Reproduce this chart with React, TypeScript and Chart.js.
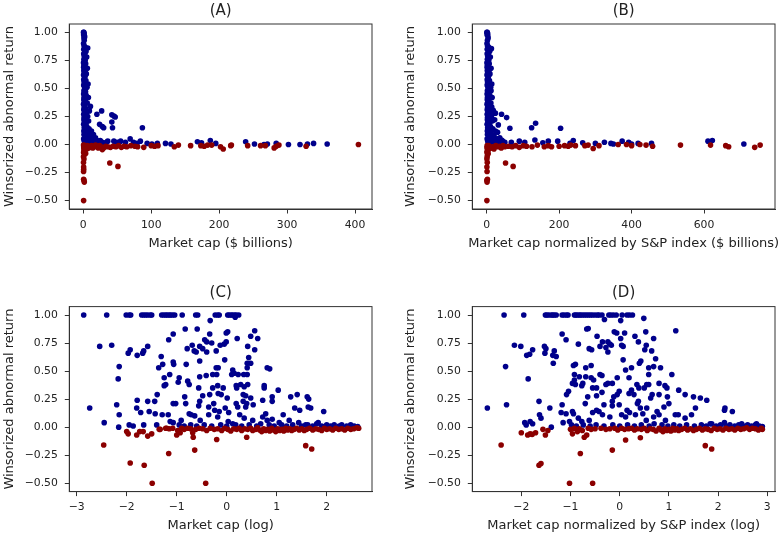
import React, { useEffect, useRef } from "react";
import { Chart, registerables } from "chart.js";

Chart.register(...registerables);

type Pt = [number, number];

// ---------- labels & ticks ----------
const titles = ["(A)", "(B)", "(C)", "(D)"];
const xLabels = [
  "Market cap ($ billions)",
  "Market cap normalized by S&P index ($ billions)",
  "Market cap (log)",
  "Market cap normalized by S&P index (log)",
];
const yLabel = "Winsorized abnormal return";
const yTicks = [-0.5, -0.25, 0, 0.25, 0.5, 0.75, 1.0];
const xTicksA = [0, 100, 200, 300, 400];
const xTicksB = [0, 200, 400, 600];
const xTicksC = [-3, -2, -1, 0, 1, 2];
const xTicksD = [-2, -1, 0, 1, 2, 3];

// ---------- panel A: market cap ($ billions) ----------
const aBlue: Pt[] = [
  [0.3, 1.0], [0.8, 1.0], [1.2, 0.99], [0.5, 0.98], [1.6, 0.97], [2.0, 0.96], [0.9, 0.95], [1.4, 0.93],
  [0.4, 0.9], [1.1, 0.88], [2.5, 0.87], [3.2, 0.86], [6.5, 0.86], [0.7, 0.85], [1.8, 0.84], [4.0, 0.83],
  [0.6, 0.81], [2.2, 0.8], [1.3, 0.79], [5.0, 0.78], [0.9, 0.76], [2.8, 0.75], [1.5, 0.74], [0.3, 0.73],
  [3.5, 0.72], [1.0, 0.71], [2.1, 0.7], [0.5, 0.69], [6.0, 0.68], [1.7, 0.67], [0.8, 0.66], [3.0, 0.65],
  [1.2, 0.64], [4.5, 0.63], [0.4, 0.62], [2.4, 0.61], [1.9, 0.6], [0.7, 0.58], [3.8, 0.57], [1.1, 0.56],
  [2.6, 0.55], [7.0, 0.54], [0.6, 0.53], [1.4, 0.52], [5.5, 0.51], [2.0, 0.5], [0.9, 0.48], [3.3, 0.47],
  [1.6, 0.46], [0.5, 0.45], [4.2, 0.44], [2.3, 0.43], [1.0, 0.42], [7.5, 0.42], [0.8, 0.4], [2.9, 0.39],
  [1.5, 0.38], [5.8, 0.37], [0.4, 0.36], [2.2, 0.35], [10.5, 0.34], [1.2, 0.33], [3.6, 0.32], [0.7, 0.31],
  [9.0, 0.3], [1.8, 0.29], [4.8, 0.28], [0.6, 0.27], [2.5, 0.26], [6.5, 0.25], [1.1, 0.24], [3.1, 0.23],
  [0.9, 0.22], [7.8, 0.21], [1.6, 0.2], [4.0, 0.19], [0.5, 0.18], [2.7, 0.17], [5.2, 0.16], [1.3, 0.15],
  [8.5, 0.14], [3.4, 0.13], [0.8, 0.12], [12, 0.12], [2.0, 0.11], [6.0, 0.1], [15, 0.09], [1.0, 0.09],
  [4.4, 0.08], [9.5, 0.07], [2.6, 0.06], [18, 0.06], [0.6, 0.05], [7.0, 0.05], [3.8, 0.04], [13, 0.04],
  [1.5, 0.03], [22, 0.03], [5.5, 0.02], [10, 0.02], [2.2, 0.01], [16, 0.01], [28, 0.02], [32, 0.01],
  [36, 0.03], [20, 0.27], [27, 0.3], [24, 0.18], [28, 0.16], [30, 0.15], [42, 0.265], [45, 0.255],
  [47, 0.245], [42, 0.2], [43, 0.15], [87, 0.15], [11, 0.1], [14, 0.06], [19, 0.04], [45, 0.03],
  [50, 0.02], [55, 0.03], [62, 0.02], [69, 0.05], [74, 0.02], [79, 0.01], [84, 0.03], [94, 0.01],
  [101, 0.005], [109, 0.01], [121, 0.01], [129, 0.005], [168, 0.025], [174, 0.015], [187, 0.035],
  [195, 0.01], [239, 0.025], [252, 0.005], [266, 0.0], [271, 0.005], [284, 0.01], [302, 0.0],
  [319, 0.0], [330, 0.005], [339, 0.01], [359, 0.005], [15, 0.02], [25, 0.035], [34, 0.02],
];
const aRed: Pt[] = [
  [0.4, -0.005], [1.0, -0.01], [2.0, -0.015], [0.6, -0.02], [3.0, -0.01], [1.5, -0.03], [4.5, -0.02],
  [0.8, -0.04], [6.0, -0.01], [2.5, -0.05], [1.2, -0.06], [8.0, -0.03], [0.5, -0.07], [3.5, -0.08],
  [1.8, -0.09], [0.3, -0.11], [5.0, -0.04], [1.0, -0.13], [0.3, -0.16], [0.5, -0.2], [0.6, -0.22],
  [0.4, -0.24], [0.5, -0.31], [1.0, -0.32], [1.5, -0.335], [0.5, -0.5], [10, -0.02], [12, -0.01],
  [14, -0.03], [16, -0.02], [18, -0.005], [20, -0.015], [22, -0.03], [24, -0.01], [26, -0.02],
  [28, -0.045], [30, -0.03], [33, -0.015], [36, -0.02], [40, -0.025], [44, -0.015], [48, -0.02],
  [52, -0.01], [56, -0.025], [60, -0.015], [64, -0.02], [70, -0.01], [76, -0.015], [80, -0.02],
  [89, -0.025], [100, -0.01], [105, -0.015], [110, -0.01], [134, -0.02], [140, -0.005], [158, -0.01],
  [173, -0.01], [178, -0.015], [183, -0.005], [189, -0.005], [202, -0.02], [206, -0.04], [217, -0.01],
  [218, -0.005], [242, -0.01], [261, -0.01], [268, -0.01], [281, -0.03], [284, -0.015], [288, -0.005],
  [328, -0.015], [405, 0.0], [39, -0.165], [51, -0.195],
];

// ---------- panel B: normalized market cap ($ billions) ----------
const bBlue: Pt[] = [
  [0.5, 1.0], [1.5, 1.0], [2.5, 0.99], [1.0, 0.98], [3.0, 0.97], [4.0, 0.95], [2.0, 0.93], [0.8, 0.9],
  [2.2, 0.88], [5.0, 0.87], [6.0, 0.86], [13, 0.855], [1.4, 0.85], [3.6, 0.84], [8.0, 0.83], [1.2, 0.81],
  [4.4, 0.8], [2.6, 0.79], [10, 0.78], [1.8, 0.76], [5.6, 0.75], [3.0, 0.74], [0.6, 0.73], [7.0, 0.72],
  [2.0, 0.71], [4.2, 0.7], [1.0, 0.69], [12, 0.68], [3.4, 0.67], [1.6, 0.66], [6.0, 0.65], [2.4, 0.64],
  [9.0, 0.63], [0.8, 0.62], [4.8, 0.61], [3.8, 0.6], [1.4, 0.58], [7.6, 0.57], [2.2, 0.56], [5.2, 0.55],
  [14, 0.54], [1.2, 0.53], [2.8, 0.52], [11, 0.51], [4.0, 0.5], [1.8, 0.48], [12, 0.48], [6.6, 0.47],
  [3.2, 0.46], [1.0, 0.45], [8.4, 0.44], [4.6, 0.43], [2.0, 0.42], [15, 0.42], [1.6, 0.4], [5.8, 0.39],
  [3.0, 0.38], [11.6, 0.37], [0.8, 0.36], [4.4, 0.35], [14, 0.335], [2.4, 0.33], [7.2, 0.32], [1.4, 0.31],
  [18, 0.305], [3.6, 0.29], [24, 0.28], [9.6, 0.28], [1.2, 0.27], [41, 0.27], [5.0, 0.26], [13, 0.25],
  [55, 0.24], [2.2, 0.24], [6.2, 0.23], [22, 0.22], [1.8, 0.22], [15.6, 0.21], [3.2, 0.2], [8.0, 0.19],
  [1.0, 0.18], [32, 0.175], [5.4, 0.17], [10.4, 0.16], [2.6, 0.15], [64, 0.145], [17, 0.14], [6.8, 0.13],
  [1.6, 0.12], [24, 0.12], [30, 0.11], [4.0, 0.11], [12, 0.1], [20, 0.08], [2.0, 0.09], [8.8, 0.08],
  [19, 0.07], [5.2, 0.06], [36, 0.06], [1.2, 0.05], [14, 0.05], [7.6, 0.04], [26, 0.04], [3.0, 0.03],
  [44, 0.03], [11, 0.02], [20, 0.02], [4.4, 0.01], [32, 0.01], [124, 0.15], [135, 0.19], [204, 0.145],
  [41, 0.04], [68, 0.02], [105, 0.02], [133, 0.04], [170, 0.03], [196, 0.03], [239, 0.035], [265, 0.015],
  [300, 0.01], [325, 0.02], [343, 0.01], [374, 0.03], [392, 0.02], [418, 0.01], [455, 0.01], [611, 0.03],
  [623, 0.035], [710, 0.005], [230, 0.01], [155, 0.015], [90, 0.03], [50, 0.02], [28, 0.05], [35, 0.03],
  [400, 0.005], [350, 0.005],
];
const bRed: Pt[] = [
  [0.5, -0.5], [1.0, -0.335], [0.5, -0.32], [2.0, -0.31], [1.0, -0.24], [0.5, -0.2], [1.5, -0.16],
  [0.5, -0.13], [1.2, -0.11], [2.4, -0.09], [0.8, -0.07], [4.0, -0.08], [1.6, -0.06], [3.2, -0.05],
  [6.0, -0.04], [0.8, -0.03], [2.0, -0.02], [9.0, -0.03], [1.2, -0.01], [5, -0.01], [10, -0.03],
  [15, -0.02], [20, -0.04], [25, -0.01], [30, -0.02], [35, -0.015], [40, -0.03], [45, -0.01], [50, -0.02],
  [60, -0.015], [70, -0.02], [80, -0.01], [90, -0.025], [101, -0.01], [110, -0.015], [125, -0.02],
  [140, -0.005], [159, -0.02], [170, -0.01], [179, -0.02], [200, -0.015], [215, -0.01], [225, -0.015],
  [232, -0.005], [245, -0.01], [271, -0.01], [280, -0.005], [294, -0.035], [310, -0.01], [363, 0.0],
  [386, 0.0], [400, -0.01], [423, 0.0], [440, -0.005], [458, -0.015], [535, -0.005], [618, -0.005],
  [660, -0.01], [668, -0.02], [740, -0.025], [755, -0.005], [52, -0.165], [73, -0.195],
];

// ---------- panel C: log market cap ----------
const cBlue: Pt[] = [
  [-2.86, 1.0], [-2.4, 1.0], [-2.01, 1.0], [-1.95, 1.0], [-1.92, 1.0], [-1.7, 1.0], [-1.66, 1.0],
  [-1.62, 1.0], [-1.58, 1.0], [-1.53, 1.0], [-1.5, 1.0], [-1.3, 1.0], [-1.26, 1.0], [-1.22, 1.0],
  [-1.19, 1.0], [-1.15, 1.0], [-1.12, 1.0], [-1.08, 1.0], [-1.04, 1.0], [-0.89, 1.0], [-0.62, 1.0],
  [-0.58, 1.0], [-0.23, 1.0], [-0.18, 1.0], [-0.15, 1.0], [0.02, 1.0], [0.05, 1.0], [0.09, 1.0],
  [0.12, 1.0], [0.16, 1.0], [0.19, 1.0], [0.24, 1.0], [0.17, 0.98],
  [-0.33, 0.95], [-0.83, 0.875], [-0.59, 0.875], [-1.07, 0.83], [-0.34, 0.83], [0.02, 0.85], [-0.01, 0.84],
  [0.56, 0.86], [0.48, 0.81], [-1.16, 0.78], [-0.44, 0.78], [0.21, 0.79], [0.62, 0.79],
  [-2.54, 0.72], [-2.3, 0.73], [-0.79, 0.7], [-0.69, 0.73], [-0.54, 0.72], [-0.48, 0.7], [-0.4, 0.76],
  [-0.3, 0.75], [-0.13, 0.73], [-0.05, 0.74], [-0.01, 0.76], [0.42, 0.72],
  [-1.93, 0.69], [-1.97, 0.66], [-1.79, 0.64], [-1.68, 0.66], [-1.66, 0.68], [-1.58, 0.72], [-0.65, 0.68],
  [-0.61, 0.67], [-0.4, 0.67], [-0.21, 0.68], [0.56, 0.69], [0.44, 0.62],
  [-1.31, 0.63], [-1.36, 0.53], [-1.28, 0.56], [-1.07, 0.58], [-1.06, 0.56], [-0.81, 0.56], [-0.54, 0.59],
  [-0.04, 0.6], [-0.21, 0.53], [-0.17, 0.53], [0.12, 0.51], [0.41, 0.53], [0.41, 0.57], [0.48, 0.57],
  [0.81, 0.53], [0.86, 0.52], [-2.15, 0.54],
  [-2.17, 0.43], [-1.25, 0.44], [-1.14, 0.47], [-0.95, 0.44], [-0.97, 0.4], [-0.78, 0.41], [-0.75, 0.38],
  [-0.54, 0.45], [-0.41, 0.46], [-0.28, 0.47], [-0.2, 0.47], [0.1, 0.47], [0.15, 0.48], [0.23, 0.47],
  [0.34, 0.47], [0.41, 0.47],
  [-1.25, 0.37], [-1.22, 0.38], [-0.56, 0.35], [-0.28, 0.35], [-0.18, 0.37], [-0.07, 0.35], [0.19, 0.37],
  [0.2, 0.35], [0.28, 0.38], [0.42, 0.38], [0.35, 0.36], [0.75, 0.35], [0.75, 0.37],
  [-1.39, 0.29], [-0.84, 0.27], [-0.48, 0.28], [-0.34, 0.29], [-0.17, 0.3], [-0.11, 0.29], [0.01, 0.26],
  [0.33, 0.29], [0.38, 0.28], [0.48, 0.26], [1.03, 0.33], [1.28, 0.27], [1.41, 0.29], [1.61, 0.27],
  [1.64, 0.25],
  [-2.74, 0.17], [-2.2, 0.2], [-1.79, 0.24], [-1.58, 0.23], [-1.44, 0.23], [-1.8, 0.17], [-1.72, 0.13],
  [-1.55, 0.14], [-1.43, 0.12], [-1.29, 0.11], [-1.07, 0.21], [-1.02, 0.21], [-0.82, 0.21], [-0.54, 0.23],
  [-0.56, 0.19], [-0.36, 0.18], [-0.26, 0.21], [-0.24, 0.15], [-0.15, 0.14], [-0.03, 0.17], [0.04, 0.13],
  [0.19, 0.21], [0.22, 0.18], [0.33, 0.23], [0.4, 0.21], [0.38, 0.18], [0.53, 0.2], [0.72, 0.24],
  [0.91, 0.27], [0.91, 0.23], [1.36, 0.17], [1.46, 0.15], [1.63, 0.18], [1.68, 0.17], [1.94, 0.14],
  [1.13, 0.11],
  [-2.45, 0.04], [-2.16, 0.0], [-2.15, 0.11], [-1.95, 0.02], [-1.87, 0.01], [-1.66, 0.02], [-1.4, 0.02],
  [-1.17, 0.11], [-1.13, 0.05], [-1.07, 0.04], [-0.91, 0.06], [-0.75, 0.12], [-0.71, 0.11], [-0.64, 0.1],
  [-0.53, 0.06], [-0.36, 0.11], [-0.18, 0.09], [0.03, 0.05], [0.12, 0.03], [0.26, 0.11], [0.35, 0.08],
  [0.52, 0.06], [0.72, 0.09], [0.78, 0.12], [0.81, 0.06], [0.91, 0.07], [1.05, 0.04], [1.25, 0.06],
  [1.44, 0.04], [1.58, 0.02], [1.83, 0.04],
  [-0.95, 0.02], [-0.85, 0.01], [-0.72, 0.02], [-0.6, 0.01], [-0.45, 0.02], [-0.3, 0.01], [-0.12, 0.02],
  [0.0, 0.01], [0.18, 0.02], [0.3, 0.01], [0.45, 0.02], [0.6, 0.01], [0.68, 0.03], [0.85, 0.02],
  [0.95, 0.01], [1.1, 0.02], [1.2, 0.01], [1.32, 0.02], [1.5, 0.01], [1.62, 0.02], [1.72, 0.01],
  [1.8, 0.03], [1.9, 0.01], [2.0, 0.02], [2.08, 0.01], [2.15, 0.02], [2.25, 0.01], [2.3, 0.02],
  [2.4, 0.01], [2.48, 0.02], [2.55, 0.01], [2.62, 0.005],
];
const cRed: Pt[] = [
  [-2.0, -0.04], [-1.97, -0.06], [-1.8, -0.07], [-1.74, -0.04], [-1.67, -0.04], [-1.58, -0.08],
  [-1.5, -0.06], [-1.35, -0.02], [-1.2, -0.01], [-1.0, -0.07], [-0.93, -0.05], [-0.68, -0.05],
  [-0.67, -0.09], [-0.2, -0.11], [0.4, -0.09], [-2.46, -0.16], [-1.93, -0.32], [-1.65, -0.34],
  [-1.49, -0.5], [-1.16, -0.235], [-0.64, -0.205], [-0.42, -0.5], [1.58, -0.165], [1.7, -0.195],
  [-1.33, -0.02], [-1.22, -0.01], [-1.15, -0.015], [-1.08, -0.01], [-0.98, -0.03], [-0.9, -0.01],
  [-0.85, -0.02], [-0.78, -0.01], [-0.72, -0.015], [-0.62, -0.02], [-0.55, -0.01], [-0.48, -0.015],
  [-0.4, -0.03], [-0.33, -0.01], [-0.25, -0.02], [-0.18, -0.015], [-0.1, -0.03], [-0.04, -0.01],
  [0.02, -0.02], [0.08, -0.035], [0.14, -0.015], [0.2, -0.02], [0.25, -0.01], [0.3, -0.03],
  [0.36, -0.015], [0.42, -0.02], [0.48, -0.01], [0.52, -0.03], [0.58, -0.02], [0.62, -0.005],
  [0.66, -0.025], [0.7, -0.04], [0.74, -0.015], [0.78, -0.03], [0.82, -0.02], [0.86, -0.035],
  [0.9, -0.01], [0.94, -0.025], [0.98, -0.04], [1.02, -0.015], [1.06, -0.03], [1.1, -0.02],
  [1.14, -0.035], [1.18, -0.01], [1.22, -0.025], [1.26, -0.015], [1.3, -0.03], [1.35, -0.02],
  [1.4, -0.01], [1.45, -0.025], [1.5, -0.015], [1.55, -0.03], [1.6, -0.02], [1.66, -0.01],
  [1.72, -0.025], [1.78, -0.015], [1.84, -0.02], [1.9, -0.03], [1.95, -0.01], [2.0, -0.02],
  [2.06, -0.015], [2.12, -0.025], [2.18, -0.01], [2.24, -0.02], [2.3, -0.015], [2.36, -0.025],
  [2.42, -0.01], [2.48, -0.02], [2.54, -0.015], [2.6, -0.005], [2.64, -0.01],
];

// ---------- panel D: log normalized market cap ----------
const dBlue: Pt[] = [
  [-2.35, 1.0], [-1.95, 1.0], [-1.51, 1.0], [-1.48, 1.0], [-1.44, 1.0], [-1.39, 1.0], [-1.36, 1.0],
  [-1.33, 1.0], [-1.29, 1.0], [-1.17, 1.0], [-1.13, 1.0], [-1.08, 1.0], [-1.05, 1.0], [-0.92, 1.0],
  [-0.89, 1.0], [-0.86, 1.0], [-0.82, 1.0], [-0.79, 1.0], [-0.75, 1.0], [-0.71, 1.0], [-0.67, 1.0],
  [-0.63, 1.0], [-0.59, 1.0], [-0.55, 1.0], [-0.5, 1.0], [-0.45, 1.0], [-0.42, 1.0], [-0.36, 1.0],
  [-0.22, 1.0], [-0.18, 1.0], [-0.13, 1.0], [-0.07, 1.0], [0.05, 1.0], [0.15, 1.0], [0.2, 1.0], [0.26, 1.0],
  [-0.31, 0.96], [0.02, 0.95], [0.49, 0.97],
  [-0.67, 0.875], [-0.64, 0.88], [-0.11, 0.85], [-0.06, 0.84], [0.1, 0.84], [0.02, 0.79], [0.53, 0.85],
  [1.14, 0.86], [0.69, 0.79], [-1.17, 0.83], [-1.09, 0.78], [0.31, 0.81], [0.38, 0.76],
  [-2.14, 0.73], [-2.01, 0.72], [-1.53, 0.72], [-1.5, 0.7], [-1.33, 0.68], [-0.84, 0.74], [-0.62, 0.7],
  [-0.57, 0.69], [-0.46, 0.81], [-0.4, 0.72], [-0.35, 0.76], [-0.28, 0.71], [-0.24, 0.76], [-0.2, 0.74],
  [-0.17, 0.73], [0.04, 0.73], [0.07, 0.72], [0.54, 0.73], [0.51, 0.69], [0.65, 0.68],
  [-1.89, 0.64], [-1.83, 0.65], [-1.77, 0.69], [-1.52, 0.66], [-2.32, 0.54],
  [-1.36, 0.64], [-1.29, 0.63], [-1.35, 0.57], [-0.94, 0.55], [-0.9, 0.56], [-0.69, 0.53], [-0.58, 0.55],
  [-0.24, 0.67], [0.07, 0.6], [0.12, 0.51], [0.24, 0.53], [0.4, 0.57], [0.43, 0.59], [0.59, 0.53],
  [0.73, 0.61], [0.69, 0.54], [0.83, 0.53], [0.59, 0.47],
  [-1.86, 0.43], [-0.92, 0.47], [-0.82, 0.45], [-0.92, 0.42], [-0.69, 0.45], [-0.58, 0.44], [-0.53, 0.42],
  [-0.4, 0.47], [-0.36, 0.46], [-0.28, 0.38], [-0.24, 0.39], [-0.15, 0.39], [-0.05, 0.44], [0.19, 0.44],
  [0.35, 0.38], [0.39, 0.35], [0.5, 0.35], [0.55, 0.38], [0.59, 0.38], [0.8, 0.39], [0.92, 0.37],
  [0.96, 0.35], [1.06, 0.47],
  [-0.96, 0.39], [-0.9, 0.38], [-0.77, 0.37], [-0.75, 0.39], [-0.55, 0.35], [-0.47, 0.35],
  [-1.08, 0.29], [-1.04, 0.32], [-0.65, 0.27], [-0.47, 0.28], [-0.36, 0.31], [-0.12, 0.27], [-0.05, 0.29],
  [-0.01, 0.32], [0.19, 0.3], [0.24, 0.33], [0.29, 0.29], [0.38, 0.23], [0.63, 0.26], [0.66, 0.29],
  [0.8, 0.29], [0.97, 0.27], [1.2, 0.33], [1.33, 0.29], [1.5, 0.27], [1.64, 0.26], [1.77, 0.24],
  [2.14, 0.17], [2.13, 0.15], [2.29, 0.14],
  [-2.69, 0.17], [-2.3, 0.2], [-1.64, 0.23], [-1.42, 0.17], [-1.17, 0.2], [-1.19, 0.13], [-1.09, 0.12],
  [-0.96, 0.14], [-0.7, 0.21], [-0.55, 0.13], [-0.47, 0.15], [-0.42, 0.14], [-0.32, 0.2], [-0.15, 0.23],
  [-0.15, 0.19], [-0.01, 0.2], [0.15, 0.15], [0.2, 0.13], [0.36, 0.21], [0.42, 0.17], [0.47, 0.12],
  [0.55, 0.17], [0.76, 0.14], [0.9, 0.18], [1.0, 0.21], [1.19, 0.11], [1.46, 0.11], [1.54, 0.17],
  [-1.93, 0.04], [-1.9, 0.02], [-1.82, 0.05], [-1.77, 0.03], [-1.63, 0.11], [-1.6, 0.08], [-1.39, 0.0],
  [-1.15, 0.04], [-1.02, 0.05], [-0.94, 0.12], [-0.84, 0.08], [-0.77, 0.05], [-0.62, 0.06], [-0.35, 0.11],
  [-0.2, 0.09], [0.04, 0.11], [0.12, 0.09], [0.32, 0.11], [0.54, 0.06], [0.69, 0.09], [0.8, 0.11],
  [0.93, 0.06], [1.13, 0.11], [1.33, 0.08], [1.87, 0.03], [2.13, 0.04], [2.48, 0.03], [2.78, 0.03],
  [-0.98, 0.02], [-0.88, 0.01], [-0.74, 0.02], [-0.6, 0.01], [-0.48, 0.02], [-0.32, 0.01], [-0.14, 0.02],
  [0.0, 0.01], [0.16, 0.02], [0.3, 0.01], [0.44, 0.02], [0.6, 0.01], [0.7, 0.03], [0.86, 0.02],
  [0.98, 0.01], [1.1, 0.02], [1.22, 0.01], [1.36, 0.02], [1.52, 0.01], [1.66, 0.02], [1.76, 0.01],
  [1.84, 0.03], [1.96, 0.01], [2.05, 0.02], [2.16, 0.01], [2.24, 0.02], [2.34, 0.01], [2.42, 0.02],
  [2.52, 0.01], [2.6, 0.02], [2.68, 0.01], [2.76, 0.02], [2.84, 0.01], [2.9, 0.005],
];
const dRed: Pt[] = [
  [-2.41, -0.16], [-2.0, -0.05], [-1.87, -0.07], [-1.82, -0.06], [-1.78, -0.065], [-1.71, -0.05],
  [-1.56, -0.02], [-1.51, -0.07], [-1.46, -0.03], [-0.96, -0.06], [-0.86, -0.04], [-0.72, -0.09],
  [-0.67, -0.07], [0.12, -0.115], [0.42, -0.095], [-1.64, -0.34], [-1.6, -0.325], [-1.02, -0.5],
  [-0.55, -0.5], [-0.8, -0.235], [-0.15, -0.205], [1.74, -0.165], [1.87, -0.195],
  [-1.0, -0.02], [-0.92, -0.01], [-0.82, -0.015], [-0.76, -0.03], [-0.64, -0.01], [-0.58, -0.02],
  [-0.5, -0.015], [-0.38, -0.01], [-0.28, -0.02], [-0.2, -0.015], [-0.1, -0.01], [-0.04, -0.025],
  [0.04, -0.01], [0.1, -0.02], [0.18, -0.015], [0.24, -0.01], [0.3, -0.025], [0.36, -0.015],
  [0.44, -0.02], [0.5, -0.01], [0.56, -0.03], [0.62, -0.015], [0.68, -0.02], [0.74, -0.035],
  [0.8, -0.01], [0.84, -0.025], [0.88, -0.04], [0.92, -0.015], [0.96, -0.03], [1.0, -0.02],
  [1.04, -0.035], [1.08, -0.01], [1.12, -0.025], [1.16, -0.015], [1.2, -0.03], [1.26, -0.02],
  [1.32, -0.01], [1.38, -0.025], [1.44, -0.015], [1.5, -0.03], [1.56, -0.02], [1.62, -0.01],
  [1.68, -0.025], [1.74, -0.015], [1.8, -0.02], [1.86, -0.03], [1.92, -0.01], [1.98, -0.02],
  [2.04, -0.015], [2.1, -0.025], [2.16, -0.01], [2.22, -0.02], [2.28, -0.015], [2.34, -0.025],
  [2.4, -0.01], [2.46, -0.02], [2.52, -0.015], [2.58, -0.005], [2.64, -0.02], [2.7, -0.01],
  [2.76, -0.015], [2.82, -0.025], [2.88, -0.01], [2.9, -0.02],
];

// ---------- styling / layout ----------
const BLUE = "#00008b";
const RED = "#8b0000";
const FONT = "'DejaVu Sans', sans-serif";
const INK = "#222222";
const W = 392;
const H = 268;

interface PanelCfg {
  left: number;
  top: number;
  area: { l: number; t: number; r: number; b: number };
  xMin: number;
  xMax: number;
  xTicks: number[];
  blue: Pt[];
  red: Pt[];
  title: string;
  xLabel: string;
  yLabelX: number;
}

const panels: PanelCfg[] = [
  { left: 0, top: 0, area: { l: 69.3, t: 24, r: 372, b: 209 }, xMin: -20.6, xMax: 425, xTicks: xTicksA, blue: aBlue, red: aRed, title: titles[0], xLabel: xLabels[0], yLabelX: 9.8 },
  { left: 392, top: 0, area: { l: 80.3, t: 24, r: 383, b: 209 }, xMin: -39.8, xMax: 796, xTicks: xTicksB, blue: bBlue, red: bRed, title: titles[1], xLabel: xLabels[1], yLabelX: 18.5 },
  { left: 0, top: 268, area: { l: 69.3, t: 38.6, r: 372, b: 223.6 }, xMin: -3.148, xMax: 2.906, xTicks: xTicksC, blue: cBlue, red: cRed, title: titles[2], xLabel: xLabels[2], yLabelX: 9.8 },
  { left: 392, top: 268, area: { l: 80.3, t: 38.6, r: 383, b: 223.6 }, xMin: -2.996, xMax: 3.157, xTicks: xTicksD, blue: dBlue, red: dRed, title: titles[3], xLabel: xLabels[3], yLabelX: 18.5 },
];

const minus = (s: string) => s.replace("-", "\u2212");

function makeTextPlugin(cfg: PanelCfg) {
  return {
    id: "panelText",
    afterDraw(chart: any) {
      const { ctx, chartArea } = chart;
      const { left, right, top, bottom } = chartArea;
      ctx.save();
      // axes box
      ctx.strokeStyle = "#333333";
      ctx.lineWidth = 1;
      ctx.strokeRect(left, top, right - left, bottom - top);
      ctx.fillStyle = INK;
      ctx.textAlign = "center";
      ctx.textBaseline = "middle";
      // title
      ctx.font = `15px ${FONT}`;
      ctx.fillText(cfg.title, (left + right) / 2, top - 13);
      // x label
      ctx.font = `13px ${FONT}`;
      ctx.fillText(cfg.xLabel, (left + right) / 2, bottom + 34.5);
      // y label
      ctx.translate(cfg.yLabelX, (top + bottom) / 2);
      ctx.rotate(-Math.PI / 2);
      ctx.fillText(yLabel, 0, 0);
      ctx.restore();
    },
  };
}

function Panel({ cfg }: { cfg: PanelCfg }) {
  const ref = useRef<HTMLCanvasElement | null>(null);
  useEffect(() => {
    const canvas = ref.current;
    if (!canvas) return;
    const { l, t, r, b } = cfg.area;
    const tickFont = { family: FONT, size: 10.8 };
    const gridOpts = {
      display: true,
      drawOnChartArea: false,
      drawTicks: true,
      tickLength: 4.5,
      tickColor: "#333333",
      color: "#333333",
      lineWidth: 1,
    };
    const chart = new Chart(canvas, {
      type: "scatter",
      data: {
        datasets: [
          {
            label: "negative",
            data: cfg.red.map(([x, y]) => ({ x, y })),
            backgroundColor: RED,
            borderColor: RED,
            pointRadius: 2.8,
            pointBorderWidth: 0,
            order: 1,
          },
          {
            label: "positive",
            data: cfg.blue.map(([x, y]) => ({ x, y })),
            backgroundColor: BLUE,
            borderColor: BLUE,
            pointRadius: 2.8,
            pointBorderWidth: 0,
            order: 2,
          },
        ],
      },
      options: {
        responsive: false,
        animation: false,
        events: [],
        layout: { padding: { left: 0, top: t, right: W - r, bottom: 0 } },
        plugins: {
          legend: { display: false },
          title: { display: false },
          tooltip: { enabled: false },
        },
        scales: {
          x: {
            type: "linear",
            min: cfg.xMin,
            max: cfg.xMax,
            afterBuildTicks: (s: any) => {
              s.ticks = cfg.xTicks.map((v) => ({ value: v }));
            },
            afterFit: (s: any) => {
              s.height = H - b;
            },
            ticks: {
              autoSkip: false,
              maxRotation: 0,
              padding: 5,
              color: INK,
              font: tickFont,
              callback: (v: any) => minus(String(v)),
            },
            grid: gridOpts,
            border: { display: true, color: "#333333", width: 1 },
          },
          y: {
            type: "linear",
            min: -0.575,
            max: 1.075,
            afterBuildTicks: (s: any) => {
              s.ticks = yTicks.map((v) => ({ value: v }));
            },
            afterFit: (s: any) => {
              s.width = l;
            },
            ticks: {
              autoSkip: false,
              padding: 7,
              color: INK,
              font: tickFont,
              callback: (v: any) => minus(Number(v).toFixed(2)),
            },
            grid: gridOpts,
            border: { display: true, color: "#333333", width: 1 },
          },
        },
      } as any,
      plugins: [makeTextPlugin(cfg)],
    });
    return () => chart.destroy();
  }, [cfg]);
  return (
    <canvas
      ref={ref}
      width={W}
      height={H}
      style={{ position: "absolute", left: cfg.left, top: cfg.top, width: W, height: H }}
    />
  );
}

export default function App() {
  return (
    <div style={{ position: "absolute", left: 0, top: 0, width: 784, height: 536, background: "#ffffff" }}>
      {panels.map((p, i) => (
        <Panel key={i} cfg={p} />
      ))}
    </div>
  );
}
